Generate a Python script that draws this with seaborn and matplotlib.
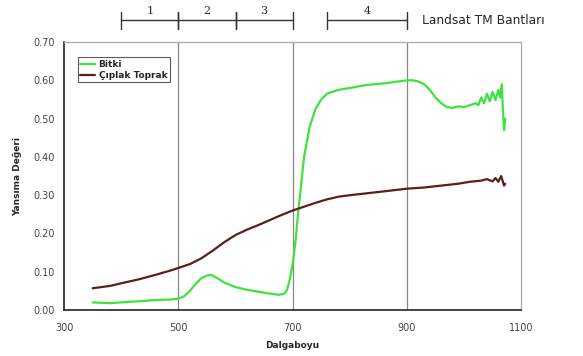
import matplotlib
matplotlib.use("Agg")
import matplotlib.pyplot as plt
import matplotlib.transforms as mtransforms
import pandas as pd
import seaborn as sns

# reflectance curves
wl_bitki = [350, 380, 400, 430, 460, 490, 500, 510, 520, 530, 540, 550, 555, 560, 570,
            580, 600, 620, 640, 660, 675, 685, 690, 695, 700, 705, 710, 715, 720, 730,
            740, 750, 760, 780, 800, 830, 860, 880, 900, 910, 920, 930, 940, 950, 960,
            970, 980, 990, 1000, 1010, 1020, 1025, 1030, 1035, 1040, 1045, 1050, 1055,
            1060, 1063, 1066, 1068, 1070, 1072]
r_bitki = [0.020, 0.018, 0.020, 0.023, 0.026, 0.028, 0.030, 0.036, 0.050, 0.068, 0.083, 0.090, 0.092, 0.090, 0.082,
           0.072, 0.060, 0.053, 0.048, 0.043, 0.040, 0.042, 0.052, 0.080, 0.120, 0.180, 0.260, 0.330, 0.400, 0.480,
           0.525, 0.550, 0.565, 0.575, 0.580, 0.588, 0.592, 0.596, 0.600, 0.600, 0.597, 0.590, 0.575, 0.555, 0.540,
           0.530, 0.528, 0.532, 0.530, 0.535, 0.540, 0.535, 0.555, 0.540, 0.565, 0.545, 0.570, 0.548, 0.575,
           0.555, 0.590, 0.520, 0.470, 0.500]

wl_toprak = [350, 380, 400, 430, 460, 490, 500, 520, 540, 560, 580, 600, 620, 640, 660,
             680, 700, 720, 740, 760, 780, 800, 830, 860, 900, 930, 960, 990, 1010, 1030,
             1040, 1050, 1055, 1060, 1065, 1070, 1072]
r_toprak = [0.057, 0.063, 0.070, 0.080, 0.092, 0.105, 0.110, 0.120, 0.135, 0.155, 0.177, 0.196, 0.210, 0.222, 0.235,
            0.248, 0.260, 0.270, 0.280, 0.289, 0.296, 0.300, 0.305, 0.310, 0.317, 0.320, 0.325, 0.330, 0.335, 0.338,
            0.342, 0.336, 0.345, 0.335, 0.350, 0.325, 0.330]

bands = ["1", "2", "3", "4"]
band_start = [400, 500, 600, 760]
band_end = [500, 600, 700, 900]

x_ticks = [300, 500, 700, 900, 1100]
y_ticks = [0.0, 0.1, 0.2, 0.3, 0.4, 0.5, 0.6, 0.7]

df = pd.concat([
    pd.DataFrame({"Dalgaboyu": wl_bitki, "Yansıma": r_bitki, "Tür": "Bitki"}),
    pd.DataFrame({"Dalgaboyu": wl_toprak, "Yansıma": r_toprak, "Tür": "Çıplak Toprak"}),
])

sns.set_style("white")
fig = plt.figure(figsize=(5.83, 3.56), dpi=100)
ax = fig.add_axes([0.110, 0.129, 0.784, 0.753])

sns.lineplot(data=df, x="Dalgaboyu", y="Yansıma", hue="Tür",
             palette={"Bitki": "#3fe23f", "Çıplak Toprak": "#5c1e1e"},
             linewidth=1.6, ax=ax)

ax.set_xlim(300, 1100)
ax.set_ylim(0, 0.70)
ax.set_xticks(x_ticks)
ax.set_yticks(y_ticks)
ax.set_yticklabels([f"{v:.2f}" for v in y_ticks])
ax.tick_params(labelsize=7, labelcolor="#444444", length=3, width=0.8, colors="#444444")
ax.tick_params(axis="x", pad=6)
for x in x_ticks[1:-1]:
    ax.axvline(x, color="#888888", lw=0.9, zorder=0)

for side in ["top", "right"]:
    ax.spines[side].set_color("#aaaaaa")
    ax.spines[side].set_linewidth(0.9)
for side in ["left", "bottom"]:
    ax.spines[side].set_color("#222222")
    ax.spines[side].set_linewidth(1.2)

ax.set_xlabel("Dalgaboyu", fontsize=6.5, fontweight="bold", labelpad=6)
ax.set_ylabel("Yansıma Değeri", fontsize=6.5, fontweight="bold", labelpad=8)

leg = ax.legend(loc="upper left", bbox_to_anchor=(0.02, 0.96), fontsize=6.5,
                frameon=True, fancybox=False, edgecolor="#333333",
                handlelength=1.6, borderpad=0.3, labelspacing=0.2, handletextpad=0.4)
for t in leg.get_texts():
    t.set_fontweight("bold")
leg.get_frame().set_linewidth(0.8)

# Landsat TM band markers above the plot
trans = mtransforms.blended_transform_factory(ax.transData, ax.transAxes)
for name, s, e in zip(bands, band_start, band_end):
    ax.plot([s, e], [1.082, 1.082], color="#333333", lw=1.0, transform=trans, clip_on=False)
    for xv in (s, e):
        ax.plot([xv, xv], [1.05, 1.112], color="#333333", lw=1.0, transform=trans, clip_on=False)
    ax.text((s + e) / 2, 1.117, name, transform=trans, ha="center", va="center",
            fontsize=8, family="DejaVu Serif")

fig.text(422 / 583, 1 - 20 / 356, "Landsat TM Bantları", fontsize=8.8, va="center", ha="left")

fig.savefig("out.png", dpi=100)
